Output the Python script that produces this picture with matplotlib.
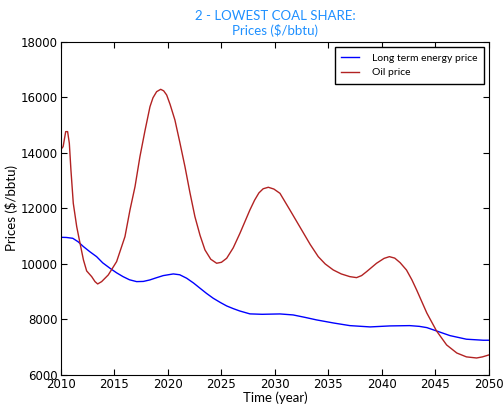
import matplotlib
matplotlib.use('Agg')
import matplotlib.pyplot as plt

plt.rcParams['font.family'] = ['Lato', 'DejaVu Sans']

# long term energy price
lt_year = [2010.0, 2010.5, 2011.1, 2011.6, 2012.1, 2012.7, 2013.33, 2013.9, 2014.58,
           2015.2, 2015.8, 2016.4, 2017.07, 2017.7, 2018.3, 2018.9, 2019.56, 2020.5,
           2021.1, 2021.75, 2022.4, 2023.0, 2023.6, 2024.23, 2024.9, 2025.49, 2026.1,
           2026.7, 2027.66, 2028.8, 2030.47, 2031.7, 2032.8, 2033.9, 2035.5, 2037.0,
           2038.9, 2040.75, 2042.6, 2043.5, 2044.2, 2045.1, 2046.36, 2047.9, 2049.47,
           2050.0]
lt_price = [10960, 10955, 10925, 10800, 10625, 10440, 10263, 10040, 9845,
            9680, 9543, 9430, 9363, 9370, 9423, 9500, 9580, 9640,
            9610, 9485, 9310, 9124, 8940, 8764, 8610, 8486, 8390,
            8306, 8200, 8185, 8198, 8162, 8075, 7982, 7870, 7777,
            7730, 7766, 7777, 7750, 7705, 7586, 7417, 7287, 7250,
            7250]

# oil price
oil_year = [2010.0, 2010.2, 2010.44, 2010.62, 2010.78, 2010.93, 2011.15, 2011.47,
            2011.78, 2012.1, 2012.4, 2012.87, 2013.18, 2013.43, 2013.8, 2014.42,
            2015.2, 2015.98, 2016.45, 2016.92, 2017.38, 2017.85, 2018.32, 2018.6,
            2018.94, 2019.32, 2019.6, 2019.88, 2020.2, 2020.65, 2021.1, 2021.59,
            2022.05, 2022.52, 2023.0, 2023.46, 2024.0, 2024.55, 2025.0, 2025.49,
            2026.1, 2026.73, 2027.2, 2027.66, 2028.1, 2028.5, 2028.9, 2029.38,
            2029.9, 2030.47, 2031.4, 2032.5, 2033.3, 2034.05, 2034.7, 2035.45,
            2036.2, 2037.0, 2037.63, 2038.1, 2038.57, 2039.5, 2040.2, 2040.7,
            2041.2, 2041.7, 2042.3, 2042.8, 2043.25, 2044.2, 2045.1, 2046.05,
            2047.0, 2047.9, 2048.85, 2049.4, 2050.0]
oil_price = [14133, 14228, 14770, 14770, 14350, 13387, 12187, 11345,
             10746, 10144, 9748, 9543, 9363, 9279, 9363, 9604,
             10084, 10984, 11946, 12786, 13868, 14800, 15670, 15990,
             16210, 16295, 16240, 16090, 15750, 15189, 14400, 13506,
             12580, 11705, 11030, 10505, 10170, 10025, 10060, 10205,
             10580, 11106, 11530, 11946, 12300, 12560, 12710, 12764,
             12700, 12546, 11946, 11225, 10700, 10263, 10000, 9784,
             9640, 9543, 9507, 9580, 9723, 10025, 10200, 10263,
             10210, 10047, 9780, 9430, 9060, 8230, 7590, 7080,
             6790, 6650, 6610, 6650, 6720]

fig = plt.figure(figsize=(5.04, 4.04), dpi=100)
ax = fig.add_axes([0.121, 0.072, 0.849, 0.824])

ax.plot(lt_year, lt_price, color='#0000ff', lw=1.0, label='Long term energy price')
ax.plot(oil_year, oil_price, color='#b22222', lw=1.0, label='Oil price')

ax.set_xlim(2010, 2050)
ax.set_ylim(6000, 18000)
ax.set_xticks(range(2010, 2051, 5))
ax.set_yticks(range(6000, 18001, 2000))
ax.tick_params(direction='in', top=True, right=True, length=4, pad=2.5)
for lab in ax.get_xticklabels() + ax.get_yticklabels():
    lab.set_fontfamily('DejaVu Sans')
    lab.set_fontsize(8.5)
ax.set_xlabel('Time (year)', fontsize=9.5, labelpad=0)
ax.set_ylabel('Prices ($/bbtu)', fontsize=9.5, labelpad=2)
ax.set_title('2 - LOWEST COAL SHARE:\nPrices ($/bbtu)', color='#1e90ff', fontsize=9.5,
             linespacing=1.15, pad=5)

leg = ax.legend(loc='upper right', fontsize=7.5, fancybox=False, framealpha=1,
                handlelength=1.7, handletextpad=1.25, borderpad=0.6)
leg.get_frame().set_edgecolor('black')

fig.savefig('out.png', dpi=100)
